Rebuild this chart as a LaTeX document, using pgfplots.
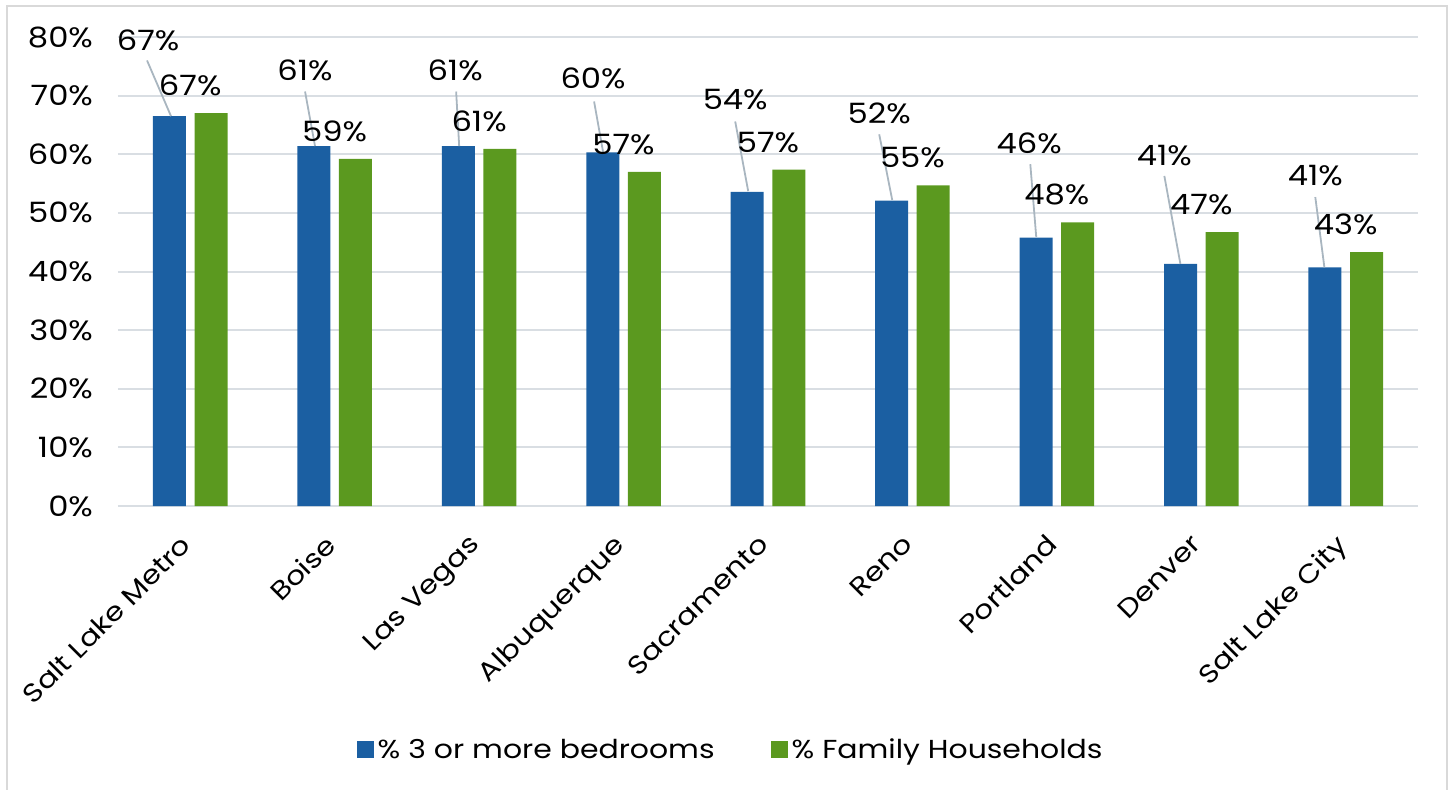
\documentclass[border=0pt]{standalone}
\usepackage{pgfplots}
\pgfplotsset{compat=1.18}
\usepackage{fontspec}
\setmainfont[FakeStretch=1.15]{Poppins}
\definecolor{barblue}{HTML}{1B5FA2}
\definecolor{bargreen}{HTML}{5B991F}
\definecolor{gridgray}{HTML}{D9DEE3}
\definecolor{leader}{HTML}{A9B6C0}
\definecolor{framegray}{HTML}{D9D9D9}
\begin{document}
\begin{tikzpicture}
\useasboundingbox (0,0) rectangle (725pt,394.5pt);
\draw[framegray, line width=1pt] (3.5pt,-5pt) -- (3.5pt,391.5pt) -- (723.5pt,391.5pt) -- (723.5pt,-5pt);
\begin{axis}[
  at={(59pt,141.5pt)}, anchor=south west,
  scale only axis, width=650pt, height=234.5pt,
  xmin=-0.5, xmax=8.5, ymin=0, ymax=80,
  xtick={0,...,8},
  xticklabels={Salt Lake Metro,Boise,Las Vegas,Albuquerque,Sacramento,Reno,Portland,Denver,Salt Lake City},
  ytick={0,10,...,80},
  yticklabel={\pgfmathprintnumber{\tick}\%},
  /pgf/number format/assume math mode=true,
  major tick length=0pt,
  axis line style={draw=none},
  ymajorgrids, grid style={gridgray, line width=1pt},
  tick label style={font=\fontsize{14}{16}\selectfont, text=black},
  xticklabel style={font=\fontsize{13}{15}\selectfont, rotate=45, anchor=north east, xshift=-10pt, yshift=-2pt},
  yticklabel style={xshift=-9pt},
  legend style={draw=none, fill=none, legend columns=2, font=\fontsize{13}{15}\selectfont,
    at={(0.472,-0.52)}, anchor=center,
    /tikz/every even column/.append style={column sep=26pt}},
  legend image code/.code={\fill[#1] (0pt,-4.25pt) rectangle (8.5pt,4.25pt);},
  clip=false,
]
% blue bars
\addplot[ybar, bar width=0.2285, bar shift=-0.144, fill=barblue, draw=none]
  coordinates {(0,66.5) (1,61.4) (2,61.4) (3,60.3) (4,53.6) (5,52.1) (6,45.8) (7,41.3) (8,40.7)};
\addlegendentry{\% 3 or more bedrooms}
% green bars
\addplot[ybar, bar width=0.2285, bar shift=0.144, fill=bargreen, draw=none,
  nodes near coords, point meta=explicit symbolic,
  every node near coord/.append style={font=\fontsize{14}{16}\selectfont, text=black, yshift=5pt}]
  table[meta=lab] {
x y lab
0 67.0 67\%
1 59.2 59\%
2 60.9 61\%
3 57.0 57\%
4 57.4 57\%
5 54.7 55\%
6 48.4 48\%
7 46.7 47\%
8 43.3 43\%
};
\addlegendentry{\% Family Households}
% leader lines
\addplot[leader, line width=0.9pt, no marks, unbounded coords=jump, forget plot] coordinates {
(-0.299,76.0) (-0.133,66.5) (0,nan)
(0.795,70.7) (0.864,61.4) (1,nan)
(1.841,70.7) (1.862,61.4) (2,nan)
(2.796,69.0) (2.859,60.3) (3,nan)
(3.773,65.6) (3.863,53.7) (4,nan)
(4.770,63.4) (4.860,52.2) (5,nan)
(5.816,58.3) (5.857,45.9) (6,nan)
(6.744,56.3) (6.855,41.3) (7,nan)
(7.789,52.7) (7.852,40.7)
};
% blue labels
\addplot[draw=none, no marks, forget plot,
  nodes near coords, point meta=explicit symbolic,
  every node near coord/.append style={font=\fontsize{14}{16}\selectfont, text=black, anchor=center}]
  table[meta=lab] {
x y lab
-0.292 79.4 67\%
0.795 74.3 61\%
1.834 74.3 61\%
2.789 73.0 60\%
3.773 69.4 54\%
4.770 67.0 52\%
5.809 61.9 46\%
6.744 59.8 41\%
7.789 56.4 41\%
};
\end{axis}
\end{tikzpicture}
\end{document}
